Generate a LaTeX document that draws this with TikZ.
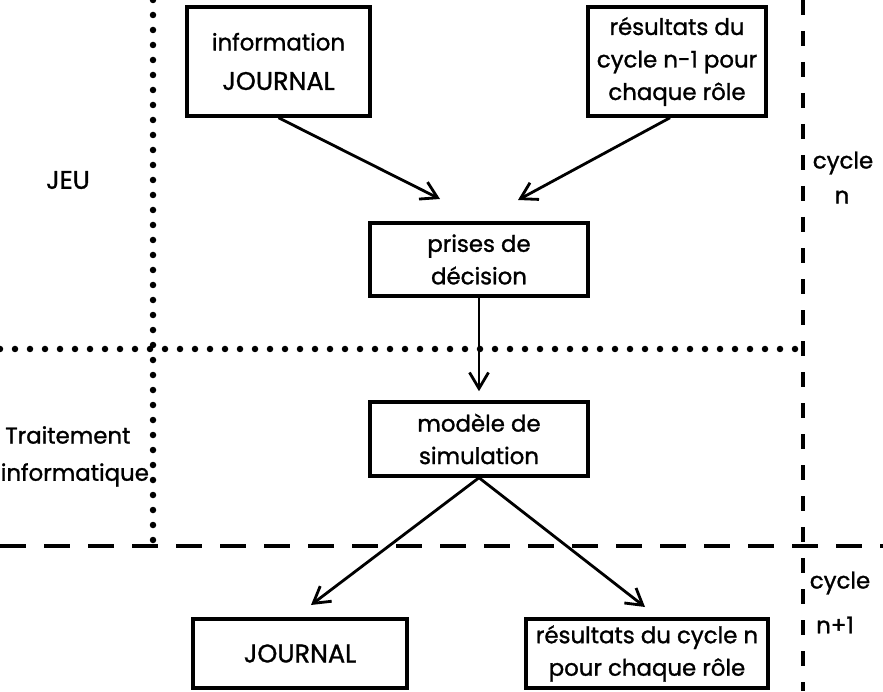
\documentclass[tikz,border=0pt]{standalone}
\usepackage{fontspec}
\setmainfont{Poppins}[UprightFeatures={FakeBold=1.2}]
\usepackage{tikz}
\usetikzlibrary{arrows.meta, positioning, calc}
\newcommand{\capitales}{\fontsize{14.5}{18.5}\selectfont}

\begin{document}
\begin{tikzpicture}[
    font=\fontsize{13}{18.5}\selectfont,
    boite/.style={rectangle, draw, line width=2pt, align=center, inner sep=2pt},
    fleche/.style={-{Straight Barb[length=3.2mm, width=3.8mm]}, line width=1.6pt},
    pointille/.style={line width=0.13cm, line cap=round, dash pattern=on 0pt off 0.3cm},
    tirets/.style={line width=2pt, dash pattern=on 0.52cm off 0.36cm},
    tiretsv/.style={line width=2pt, dash pattern=on 0.3cm off 0.32cm}
]
    \useasboundingbox (0,0) rectangle (17.66,13.82);

    % séparations des zones
    \draw[pointille] (3.06,13.82) -- (3.06,2.86);
    \draw[pointille] (0,6.84) -- (16.06,6.84);
    \draw[tirets] (0,2.9) -- (17.66,2.9);
    \draw[tiretsv] (16.06,13.82) -- (16.06,0);

    % jeu
    \node[boite, minimum width=3.66cm, minimum height=2.18cm] (info) at (5.57,12.59) {information\\[4pt]{\capitales JOURNAL}};
    \node[boite, minimum width=3.56cm, minimum height=2.18cm] (resprec) at (13.54,12.59) {résultats du\\cycle n-1 pour\\chaque rôle};
    \coordinate (pointA) at (8.8,9.84);
    \coordinate (pointB) at (10.36,9.82);
    \draw[fleche] (info.south) -- (pointA);
    \draw[fleche] ($(resprec.south)+(-0.14,0)$) -- (pointB);
    \node[boite, minimum width=4.36cm, minimum height=1.46cm] (prises) at (9.58,8.63) {prises de\\décision};

    % traitement informatique
    \node[boite, minimum width=4.36cm, minimum height=1.48cm] (modele) at (9.58,5.04) {modèle de\\simulation};
    \draw[fleche, shorten >=0.18cm] (prises) -- (modele);

    % cycle suivant
    \coordinate (pointC) at (6.22,1.72);
    \coordinate (pointD) at (12.9,1.68);
    \draw[fleche] (modele.south) -- (pointC);
    \draw[fleche] (modele.south) -- (pointD);
    \node[boite, minimum width=4.28cm, minimum height=1.38cm, font=\capitales] (journal) at (6.0,0.75) {JOURNAL};
    \node[boite, minimum width=4.84cm, minimum height=1.38cm] (resn) at (12.94,0.75) {résultats du cycle n\\pour chaque rôle};

    % étiquettes
    \node[font=\capitales] (jeu) at (1.36,10.22) {JEU};
    \node[anchor=west, inner sep=0pt] (traitement) at (0.1,5.12) {Traitement};
    \node[anchor=west, inner sep=0pt] (informatique) at (0.01,4.32) {informatique};
    \node (cyclen) at (16.86,10.56) {cycle};
    \node (n) at (16.84,9.88) {n};
    \node (cyclenn) at (16.8,2.16) {cycle};
    \node (nplus) at (16.7,1.32) {n+1};
\end{tikzpicture}
\end{document}
